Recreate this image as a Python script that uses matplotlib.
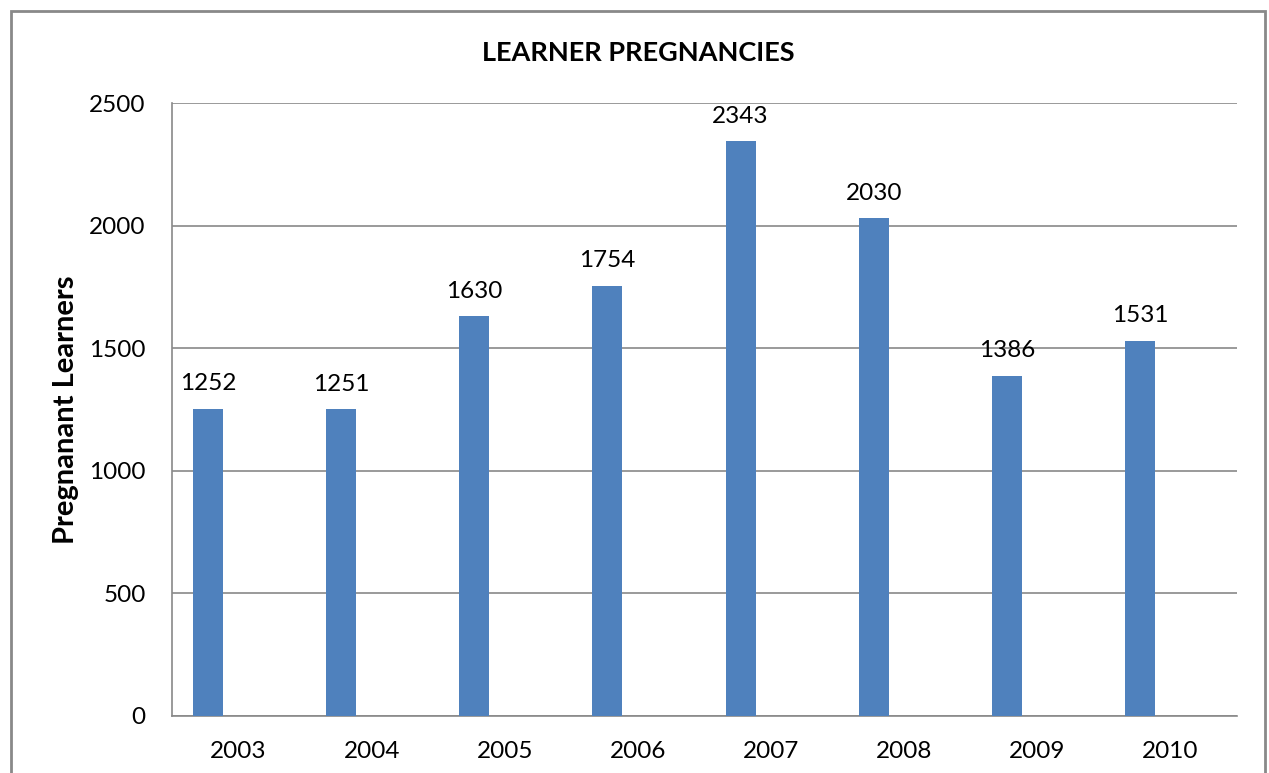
import matplotlib
matplotlib.use("Agg")
import matplotlib.pyplot as plt
import numpy as np

years = ["2003", "2004", "2005", "2006", "2007", "2008", "2009", "2010"]
pregnancies = [1252, 1251, 1630, 1754, 2343, 2030, 1386, 1531]
y_ticks = [0, 500, 1000, 1500, 2000, 2500]

plt.rcParams["font.family"] = ["Lato", "DejaVu Sans"]

fig = plt.figure(figsize=(12.69, 7.73), dpi=100)
ax = fig.add_axes([172 / 1269, 1 - 716 / 773, (1237 - 172) / 1269, (716 - 103) / 773])

# outer chart border
fig.patches.append(plt.Rectangle((11 / 1269, -0.05), (1265 - 11) / 1269, 1.05 - 11 / 773,
                                 transform=fig.transFigure, fill=False,
                                 edgecolor="#898989", linewidth=2))

x = np.arange(len(years))
bars = ax.bar(x - 0.229, pregnancies, width=0.225, color="#4F81BD", zorder=3)
for b, v in zip(bars, pregnancies):
    ax.text(b.get_x() + b.get_width() / 2, v + 60, str(v), ha="center", va="bottom",
            fontsize=17.5, color="black")

ax.set_xlim(-0.5, len(years) - 0.5)
ax.set_ylim(0, 2500)
ax.set_yticks(y_ticks)
ax.set_xticks(x)
ax.set_xticklabels(years)
ax.tick_params(axis="both", length=0, labelsize=17.5, colors="black")
ax.tick_params(axis="x", pad=18)
ax.tick_params(axis="y", pad=19)
ax.yaxis.grid(True, color="#898989", linewidth=1.2, zorder=0)
for s in ["top", "right"]:
    ax.spines[s].set_visible(False)
for s in ["left", "bottom"]:
    ax.spines[s].set_color("#898989")
    ax.spines[s].set_linewidth(1.2)

ax.set_ylabel("Pregnanant Learners", fontsize=21, fontweight="bold", labelpad=7)
fig.text(638 / 1269, 1 - 53 / 773, "LEARNER PREGNANCIES", ha="center", va="center",
         fontsize=19.5, fontweight="bold")

fig.savefig("out.png", dpi=100)
